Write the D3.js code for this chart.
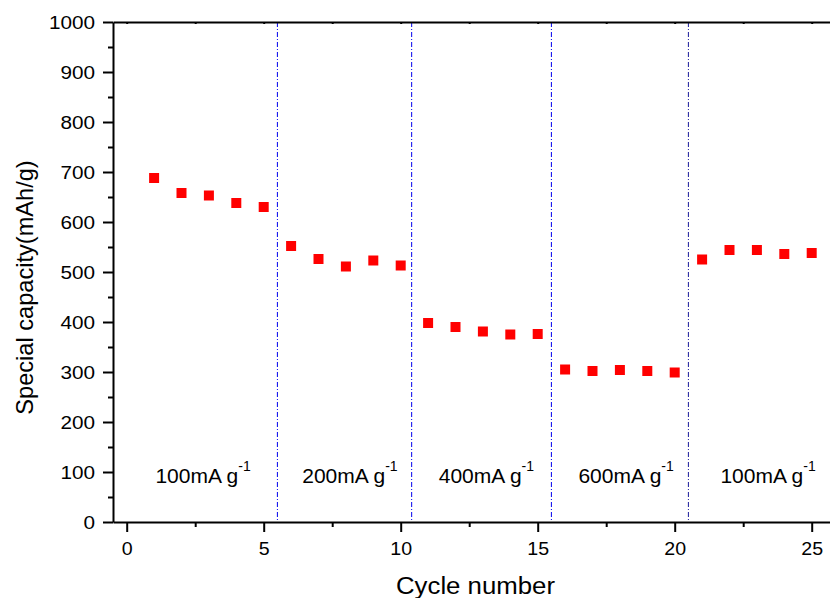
<!DOCTYPE html>
<html>
<head>
<meta charset="utf-8">
<script src="https://cdn.jsdelivr.net/npm/d3@7"></script>
<style>
  body { margin: 0; background: #fff; }
  text { font-family: "Liberation Sans", Arial, sans-serif; fill: #000; }
</style>
</head>
<body>
<svg id="chart" width="830" height="598"></svg>
<script>
// Rate capability: capacity per cycle at stepped current densities
const cycles = [1, 2, 3, 4, 5, 6, 7, 8, 9, 10, 11, 12, 13, 14, 15, 16, 17, 18, 19, 20, 21, 22, 23, 24, 25];
const capacity = [688, 658, 653, 638, 630, 552, 526, 511, 523, 513, 398, 390, 381, 375, 376,
                  305, 302, 304, 302, 299, 525, 544, 544, 536, 538];
const rateBoundaries = [5.5, 10.4, 15.5, 20.5];
const rateLabels = ["100", "200", "400", "600", "100"];
const rateLabelAt = [2.56, 7.92, 12.9, 18.0, 23.18];
const xTicks = [0, 5, 10, 15, 20, 25];
const xMinor = [2.5, 7.5, 12.5, 17.5, 22.5];
const yTicks = [0, 100, 200, 300, 400, 500, 600, 700, 800, 900, 1000];
const yMinor = [50, 150, 250, 350, 450, 550, 650, 750, 850, 950];

const svg = d3.select("#chart");
const plotLeft = 113, plotTop = 22, plotBottom = 522, unit = 27.4;

const x = d3.scaleLinear().domain([-0.5, 25.8]).range([plotLeft, plotLeft + 26.3 * unit]);
const y = d3.scaleLinear().domain([0, 1000]).range([plotBottom, plotTop]);

function stretch(sel, k) {
  sel.each(function () {
    const w = this.getComputedTextLength();
    this.setAttribute("textLength", w * k);
    this.setAttribute("lengthAdjust", "spacingAndGlyphs");
  });
}

function styleAxis(g) {
  g.selectAll("path.domain").attr("stroke", "#000").attr("stroke-width", 2);
  g.selectAll(".tick line").attr("stroke", "#000").attr("stroke-width", 2);
}

// rate-change separators
svg.append("g").selectAll("line").data(rateBoundaries).join("line")
  .attr("x1", d => x(d)).attr("x2", d => x(d))
  .attr("y1", plotTop).attr("y2", plotBottom)
  .attr("stroke", (d, i) => i === 3 ? "#1a1a9a" : "#0000ee")
  .attr("stroke-width", 1)
  .attr("stroke-dasharray", "5,2,1,2");

// top frame
const gTop = svg.append("g").attr("transform", `translate(0,${plotTop})`)
  .call(d3.axisBottom(x).tickValues(xMinor.concat(xTicks)).tickSize(2).tickSizeOuter(0).tickFormat(""));
styleAxis(gTop);

// left axis
const gYMinor = svg.append("g").attr("transform", `translate(${plotLeft},0)`)
  .call(d3.axisLeft(y).tickValues(yMinor).tickSize(5).tickFormat(""));
styleAxis(gYMinor);
gYMinor.select("path.domain").remove();

const gY = svg.append("g").attr("transform", `translate(${plotLeft},0)`)
  .call(d3.axisLeft(y).tickValues(yTicks).tickSize(10).tickSizeOuter(0)
    .tickPadding(8).tickFormat(d3.format("d")));
styleAxis(gY);
gY.selectAll(".tick text")
  .style("font-size", "18px").attr("dy", "0.35em");
stretch(gY.selectAll(".tick text"), 1.15);

// bottom axis
const gXMinor = svg.append("g").attr("transform", `translate(0,${plotBottom})`)
  .call(d3.axisBottom(x).tickValues(xMinor).tickSize(5).tickFormat(""));
styleAxis(gXMinor);
gXMinor.select("path.domain").remove();

const gX = svg.append("g").attr("transform", `translate(0,${plotBottom})`)
  .call(d3.axisBottom(x).tickValues(xTicks).tickSize(10).tickSizeOuter(0).tickFormat(d3.format("d")));
styleAxis(gX);
gX.selectAll(".tick text")
  .style("font-size", "17.5px").attr("y", 33).attr("dy", 0);
stretch(gX.selectAll(".tick text"), 1.12);

// data markers
const pts = cycles.map((c, i) => ({ c, v: capacity[i] }));
svg.append("g").selectAll("rect").data(pts).join("rect")
  .attr("x", d => x(d.c) - 5).attr("y", d => y(d.v) - 5)
  .attr("width", 10).attr("height", 10)
  .attr("fill", "#ff0000");

// current density labels
const lab = svg.append("g").selectAll("text").data(rateLabels).join("text")
  .attr("x", (d, i) => x(rateLabelAt[i]))
  .attr("y", 483)
  .attr("text-anchor", "start")
  .style("font-size", "21px");
lab.append("tspan").attr("class", "main").text(d => d + "mA g");
lab.append("tspan").attr("dy", -12).style("font-size", "14px").text("-1");
lab.each(function () {
  const w = d3.select(this).select("tspan.main").node().getComputedTextLength();
  d3.select(this).attr("x", +d3.select(this).attr("x") - w / 2);
});

// axis titles
svg.append("text")
  .attr("x", 475.5).attr("y", 594)
  .attr("text-anchor", "middle")
  .style("font-size", "23.5px")
  .attr("textLength", 159).attr("lengthAdjust", "spacingAndGlyphs")
  .text("Cycle number");

svg.append("text")
  .attr("transform", "translate(33,287.5) rotate(-90)")
  .attr("text-anchor", "middle")
  .style("font-size", "23.6px")
  .text("Special capacity(mAh/g)");
</script>
</body>
</html>
